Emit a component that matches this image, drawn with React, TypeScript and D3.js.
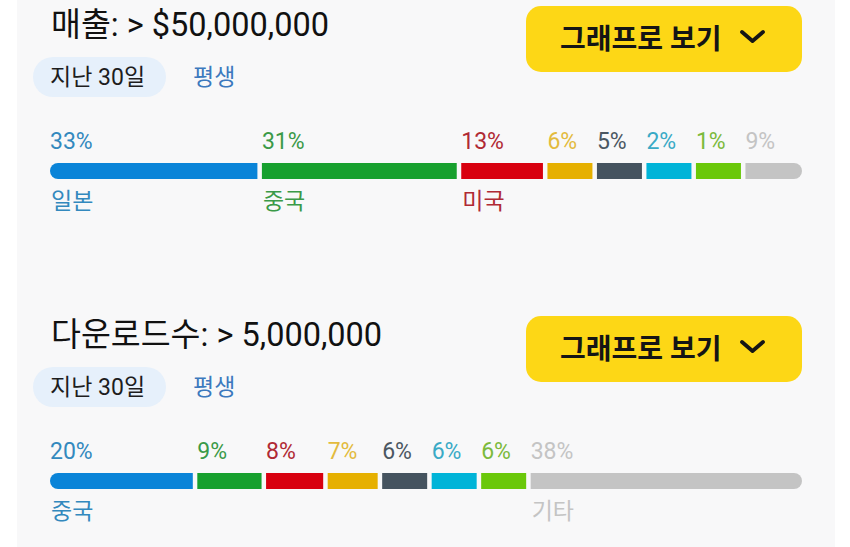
import React from "react";
import * as d3 from "d3";

const titles = ["매출: > $50,000,000", "다운로드수: > 5,000,000"];
const periodTabs = ["지난 30일", "평생"];
const buttonLabel = "그래프로 보기";

const revenueValues = [33, 31, 13, 6, 5, 2, 1, 9];
const revenueLabels = ["일본", "중국", "미국", "", "", "", "", ""];
const downloadValues = [20, 9, 8, 7, 6, 6, 6, 38];
const downloadLabels = ["중국", "", "", "", "", "", "", "기타"];

const segmentColors = ["#0a84d8", "#17a02e", "#d8000f", "#e6b000", "#45535f", "#00b4d8", "#6ac80a", "#c4c4c4"];
const textColors = ["#3389be", "#3b9a48", "#b02a34", "#e3bb3e", "#4b5762", "#3aaac6", "#7cba3c", "#c4c4c4"];

const W = 850;
const H = 547;
const BAR_X0 = 50;
const BAR_X1 = 802;
const GAP = 4.5;
const MIN_W = 45;
const SECTION_DY = 310;

function layout(values: number[]) {
  const avail = BAR_X1 - BAR_X0 - GAP * (values.length - 1);
  let small = new Set<number>();
  let k = 0;
  for (let iter = 0; iter < 10; iter++) {
    const sumLarge = d3.sum(values.filter((_, i) => !small.has(i)));
    k = (avail - small.size * MIN_W) / sumLarge;
    const next = new Set<number>();
    values.forEach((v, i) => { if (v * k < MIN_W) next.add(i); });
    if (next.size === small.size) break;
    small = next;
  }
  const scale = d3.scaleLinear().domain([0, 1]).range([0, k]);
  const widths = values.map((v, i) => (small.has(i) ? MIN_W : scale(v)));
  const starts = [0, ...Array.from(d3.cumsum(widths.map((w) => w + GAP)))].slice(0, values.length);
  return widths.map((w, i) => ({ x: BAR_X0 + starts[i], w }));
}

const FONT = "Roboto, 'Noto Sans CJK KR', sans-serif";

function Section({ idx, title, values, labels }: { idx: number; title: string; values: number[]; labels: string[] }) {
  const dy = idx * SECTION_DY;
  const segs = layout(values);
  const clipId = `barclip${idx}`;
  return (
    <g transform={`translate(0,${dy})`}>
      <text x={51} y={36} fontSize={32.5} fill="#111" fontFamily={FONT}>{title}</text>
      <rect x={33} y={57} width={133} height={40} rx={20} fill="#e6f0fb" />
      <text x={50} y={85} fontSize={23} fill="#1d1d1d" fontFamily={FONT}>{periodTabs[0]}</text>
      <text x={193} y={85} fontSize={23} fill="#3c79be" fontFamily={FONT}>{periodTabs[1]}</text>
      <rect x={526} y={6} width={276} height={66} rx={15} fill="#fdd716" />
      <text x={560} y={49} fontSize={28} fontWeight={700} fill="#151515" fontFamily={FONT}>{buttonLabel}</text>
      <polyline points="742,32 752.5,41 763,32" fill="none" stroke="#151515" strokeWidth={3.8} strokeLinecap="round" strokeLinejoin="round" />
      <defs>
        <clipPath id={clipId}>
          <rect x={BAR_X0} y={163} width={BAR_X1 - BAR_X0} height={16} rx={8} />
        </clipPath>
      </defs>
      <g clipPath={`url(#${clipId})`}>
        {segs.map((s, i) => (
          <rect key={i} x={s.x} y={163} width={s.w} height={16} fill={segmentColors[i]} />
        ))}
      </g>
      {segs.map((s, i) => (
        <text key={`p${i}`} x={s.x} y={149} fontSize={23} fill={textColors[i]} fontFamily={FONT}>{`${values[i]}%`}</text>
      ))}
      {segs.map((s, i) =>
        labels[i] ? (
          <text key={`l${i}`} x={s.x + 1} y={209} fontSize={23} fill={textColors[i]} fontFamily={FONT}>{labels[i]}</text>
        ) : null
      )}
    </g>
  );
}

export default function App() {
  return (
    <svg width={W} height={H} style={{ position: "absolute", left: 0, top: 0, background: "#ffffff" }}>
      <rect x={17} y={0} width={818} height={H} fill="#f8f8f9" />
      <Section idx={0} title={titles[0]} values={revenueValues} labels={revenueLabels} />
      <Section idx={1} title={titles[1]} values={downloadValues} labels={downloadLabels} />
    </svg>
  );
}
